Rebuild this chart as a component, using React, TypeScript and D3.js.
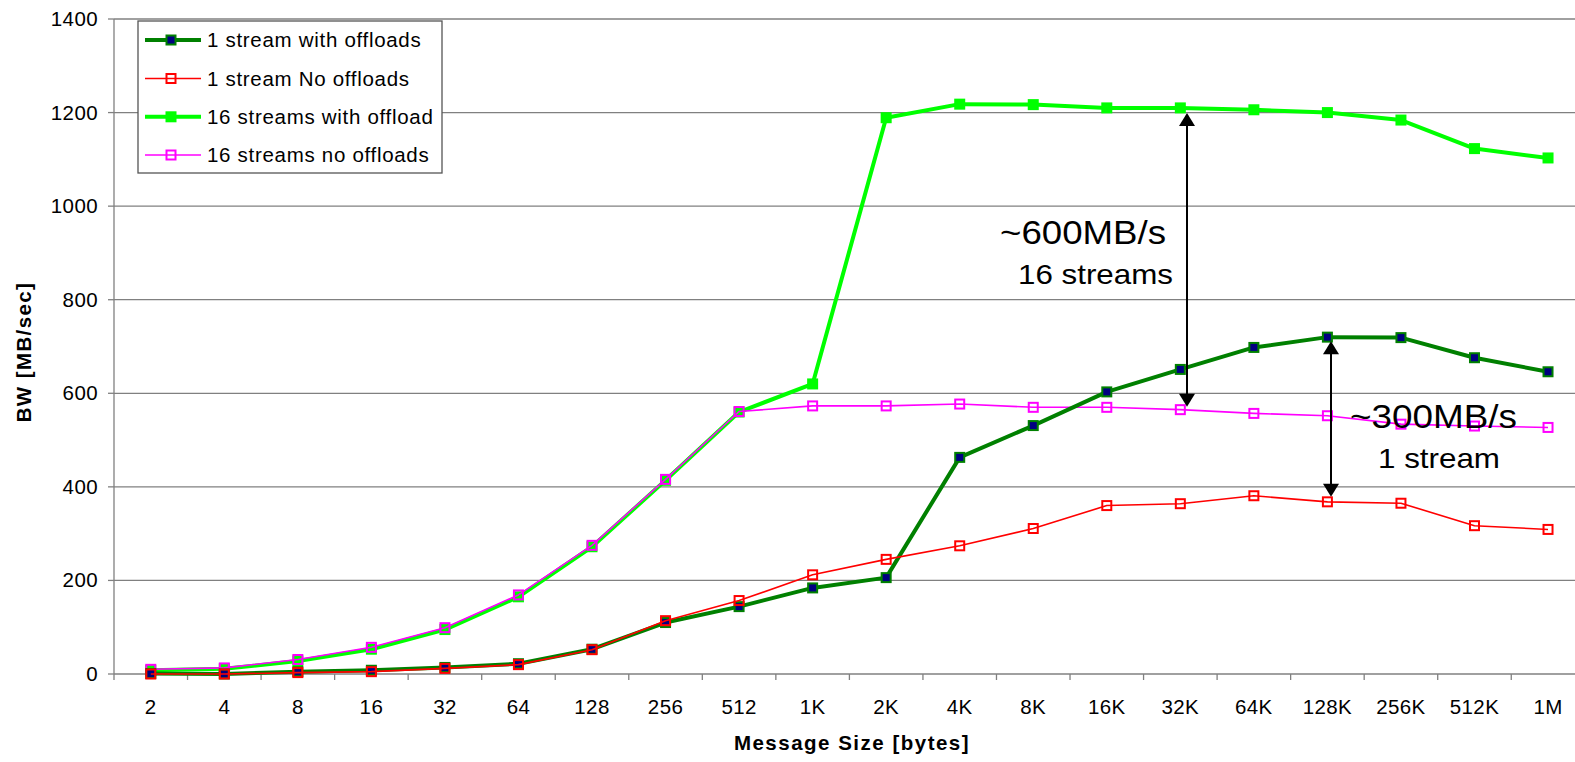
import React from "react";
import * as d3 from "d3";

const categories = ["2","4","8","16","32","64","128","256","512","1K","2K","4K","8K","16K","32K","64K","128K","256K","512K","1M"];
const oneStreamOffload = [1, 0, 5, 8, 14, 22, 53, 110, 144, 184, 206, 463, 531, 603, 651, 698, 720, 719, 676, 646];
const oneStreamNoOffload = [0, 0, 3, 5, 12, 20, 52, 114, 157, 212, 245, 274, 311, 360, 364, 381, 368, 365, 317, 309];
const sixteenOffload = [8, 11, 28, 53, 95, 165, 272, 414, 560, 620, 1189, 1218, 1217, 1210, 1210, 1206, 1200, 1184, 1123, 1103];
const sixteenNoOffload = [10, 13, 31, 57, 99, 169, 275, 416, 561, 573, 573, 577, 570, 570, 565, 557, 552, 534, 530, 527];
const yTicks = [0, 200, 400, 600, 800, 1000, 1200, 1400];

const seriesNames = ["1 stream with offloads", "1 stream No offloads", "16 streams with offload", "16 streams no offloads"];

const FONT = "'Liberation Sans', Arial, Helvetica, sans-serif";

type SeriesStyle = { color: string; width: number; marker: "filled" | "hollow" | "navy"; size: number };

const styles: SeriesStyle[] = [
  { color: "#008000", width: 4, marker: "navy", size: 11 },
  { color: "#FF0000", width: 1.6, marker: "hollow", size: 11 },
  { color: "#00FF00", width: 4, marker: "filled", size: 11 },
  { color: "#FF00FF", width: 1.6, marker: "hollow", size: 11 },
];

function Marker({ x, y, s }: { x: number; y: number; s: SeriesStyle }) {
  const h = s.size / 2;
  if (s.marker === "navy")
    return <rect x={x - h + 1} y={y - h + 1} width={s.size - 2} height={s.size - 2} fill="#000080" stroke={s.color} strokeWidth={2} />;
  if (s.marker === "filled")
    return <rect x={x - h} y={y - h} width={s.size} height={s.size} fill={s.color} />;
  return <rect x={x - h + 1} y={y - h + 1} width={s.size - 2} height={s.size - 2} fill="none" stroke={s.color} strokeWidth={2} />;
}

export default function App() {
  const W = 1575, H = 762;
  const left = 114, top = 19, bottom = 674;
  const bandW = 73.54;
  const x = d3.scaleBand<string>().domain(categories).range([left, left + bandW * categories.length]).paddingInner(0).paddingOuter(0);
  const y = d3.scaleLinear().domain([0, 1400]).range([bottom, top]);
  const cx = (c: string) => (x(c) as number) + x.bandwidth() / 2;

  const allSeries = [oneStreamOffload, oneStreamNoOffload, sixteenOffload, sixteenNoOffload];
  const drawOrder = [2, 3, 0, 1];
  const line = d3.line<number>().x((_, i) => cx(categories[i])).y((d) => y(d));

  const legendX = 138, legendY = 21, legendW = 304, legendH = 152;
  const legendRows = [40, 78.5, 116.8, 155];

  const arrowHead = (xx: number, yy: number, dir: 1 | -1) =>
    `M${xx},${yy} L${xx - 8},${yy + dir * 13} L${xx + 8},${yy + dir * 13} Z`;

  const a1x = 1187, a1top = y(sixteenOffload[14]) + 5, a1bot = y(sixteenNoOffload[14]) - 3;
  const a2x = 1331, a2top = y(oneStreamOffload[16]) + 4, a2bot = y(oneStreamNoOffload[16]) - 5;

  return (
    <svg width={W} height={H} style={{ position: "absolute", left: 0, top: 0, display: "block", background: "#fff" }} fontFamily={FONT}>
      <rect width={W} height={H} fill="#fff" />
      {yTicks.filter((t) => t > 0).map((t) => (
        <line key={t} x1={left} x2={W} y1={y(t)} y2={y(t)} stroke="#808080" strokeWidth={1.3} />
      ))}
      <line x1={left} x2={left} y1={top} y2={bottom + 6} stroke="#808080" strokeWidth={1.3} />
      <line x1={left} x2={W} y1={bottom} y2={bottom} stroke="#808080" strokeWidth={1.3} />
      {yTicks.map((t) => (
        <g key={t}>
          <line x1={left - 6} x2={left} y1={y(t)} y2={y(t)} stroke="#808080" strokeWidth={1.3} />
          <text x={left - 16} y={y(t) + 7} textAnchor="end" fontSize={20.5} letterSpacing={0.4} fill="#000">{t}</text>
        </g>
      ))}
      {categories.map((c, i) => (
        <g key={c}>
          {i > 0 && <line x1={x(c) as number} x2={x(c) as number} y1={bottom} y2={bottom + 6} stroke="#808080" strokeWidth={1.3} />}
          <text x={cx(c)} y={714} textAnchor="middle" fontSize={20.5} letterSpacing={0.4} fill="#000">{c}</text>
        </g>
      ))}
      <text x={852} y={750} textAnchor="middle" fontSize={20.5} fontWeight="bold" letterSpacing={1.5}>Message Size [bytes]</text>
      <text transform={`translate(31,352) rotate(-90)`} textAnchor="middle" fontSize={20.5} fontWeight="bold" letterSpacing={1.4}>BW [MB/sec]</text>

      {drawOrder.map((si) => {
        const s = styles[si];
        const data = allSeries[si];
        return (
          <g key={si}>
            <path d={line(data) || ""} fill="none" stroke={s.color} strokeWidth={s.width} strokeLinejoin="round" />
            {data.map((v, i) => (
              <Marker key={i} x={cx(categories[i])} y={y(v)} s={s} />
            ))}
          </g>
        );
      })}

      <line x1={a1x} x2={a1x} y1={a1top + 10} y2={a1bot - 10} stroke="#000" strokeWidth={2} />
      <path d={arrowHead(a1x, a1top, 1)} fill="#000" />
      <path d={arrowHead(a1x, a1bot, -1)} fill="#000" />
      <line x1={a2x} x2={a2x} y1={a2top + 10} y2={a2bot - 10} stroke="#000" strokeWidth={2} />
      <path d={arrowHead(a2x, a2top, 1)} fill="#000" />
      <path d={arrowHead(a2x, a2bot, -1)} fill="#000" />

      <text x={1000} y={244} fontSize={33} textLength={166} lengthAdjust="spacingAndGlyphs">~600MB/s</text>
      <text x={1018} y={284} fontSize={28} textLength={155} lengthAdjust="spacingAndGlyphs">16 streams</text>
      <text x={1350} y={428} fontSize={33} textLength={167} lengthAdjust="spacingAndGlyphs">~300MB/s</text>
      <text x={1378} y={468} fontSize={28} textLength={122} lengthAdjust="spacingAndGlyphs">1 stream</text>

      <rect x={legendX} y={legendY} width={legendW} height={legendH} fill="#fff" stroke="#555" strokeWidth={1.3} />
      {seriesNames.map((name, i) => {
        const s = styles[i];
        const ly = legendRows[i];
        return (
          <g key={name}>
            <line x1={145} x2={201} y1={ly} y2={ly} stroke={s.color} strokeWidth={s.width} />
            <Marker x={171} y={ly} s={s} />
            <text x={207} y={ly + 7} fontSize={20.5} letterSpacing={0.7}>{name}</text>
          </g>
        );
      })}
    </svg>
  );
}
